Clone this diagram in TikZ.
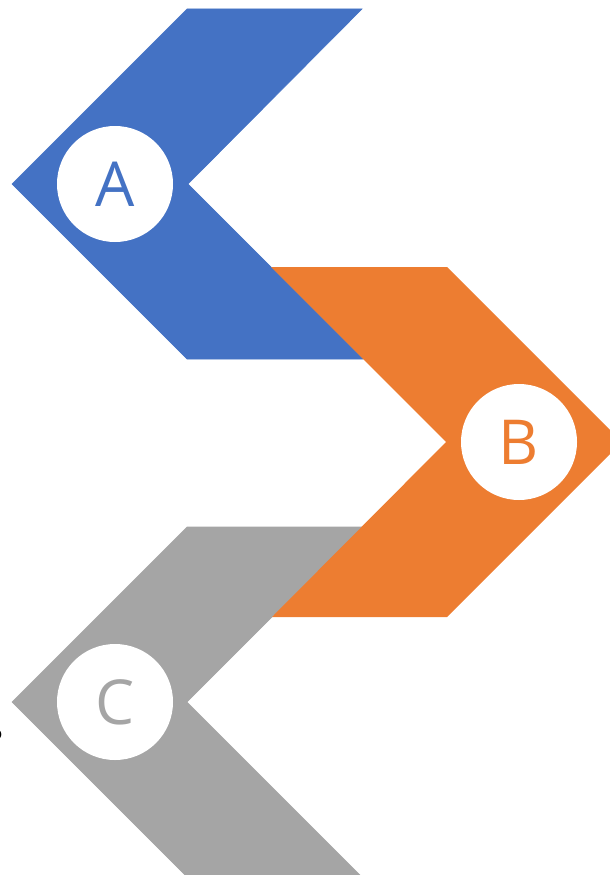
\documentclass[tikz,border=0pt]{standalone}
\usepackage{fontspec}
\setmainfont{Open Sans}
\definecolor{chevblue}{HTML}{4472C4}
\definecolor{chevorange}{HTML}{ED7D31}
\definecolor{chevgray}{HTML}{A5A5A5}
\tikzset{
  badge/.style={circle, fill=white, minimum size=116pt, inner sep=0pt,
    font=\fontsize{62}{62}\selectfont},
}
\begin{document}
\begin{tikzpicture}[x=1pt, y=-1pt]
   \useasboundingbox (0,0) rectangle (610,875);
   \clip (0,0) rectangle (610,875);
   % the three chevrons
   \filldraw[chevblue, line width=0.6pt] (187,9)--(362,9)--(188,184)--(363,359)--(187,359)--(12,184)--cycle;
   \filldraw[chevgray, line width=0.6pt] (187,527)--(362,527)--(187,702)--(362,877)--(187,877)--(12,702)--cycle;
   \fill[chevorange] (271,267)--(447,267)--(622,442)--(447,617)--(272,617)--(446,442)--cycle;
   % letters
   \node[badge, text=chevblue] (a) at (115,184) {\raisebox{-2pt}{A}};
   \node[badge, text=chevorange] (b) at (519,442) {\raisebox{-2pt}{B}};
   \node[badge, text=chevgray] (c) at (115,702) {\raisebox{-2pt}{C}};
   \node[font=\fontsize{17}{17}\selectfont\bfseries] (o) at (-3,735) {o};
\end{tikzpicture}
\end{document}
